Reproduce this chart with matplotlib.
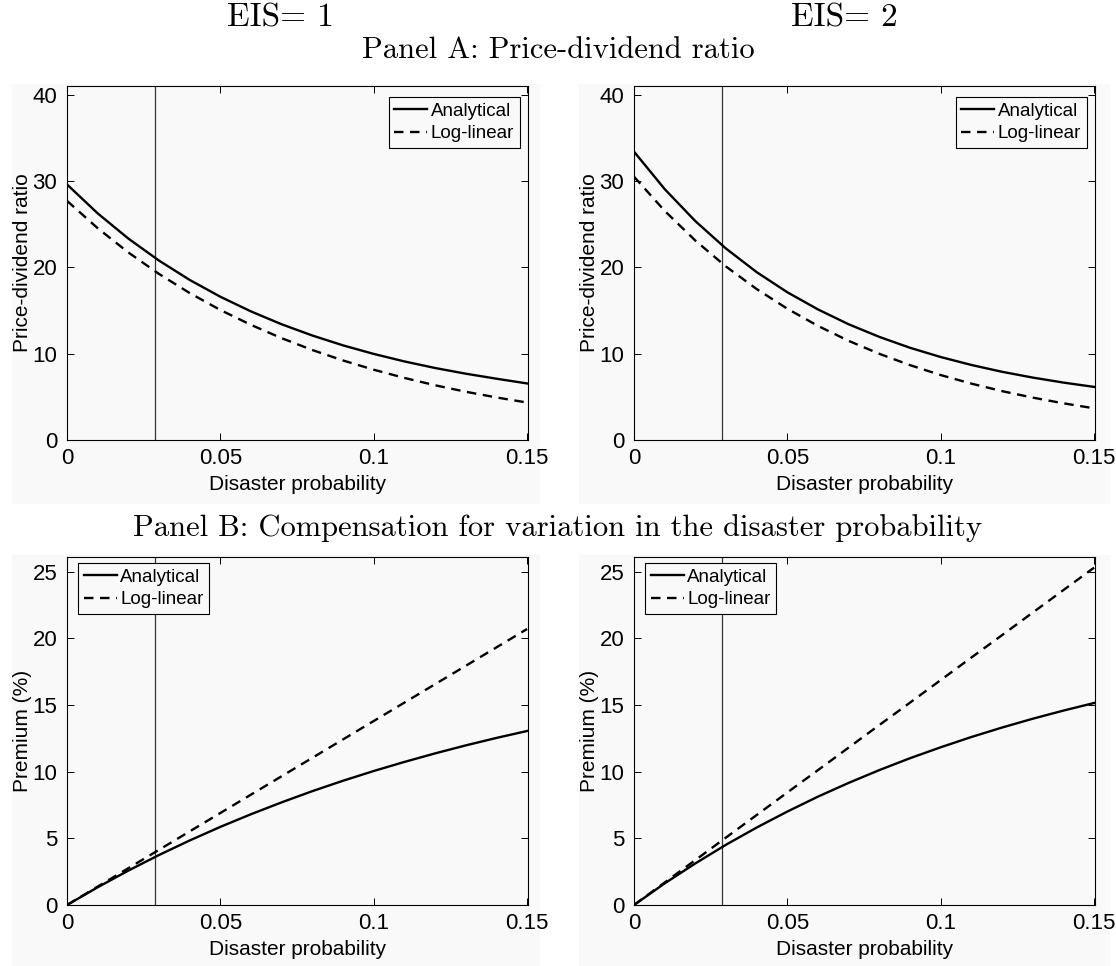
import matplotlib
matplotlib.use("Agg")
import matplotlib.pyplot as plt
from matplotlib.patches import Rectangle

# ---------------- data ----------------
p = [0.00, 0.01, 0.02, 0.03, 0.04, 0.05, 0.06, 0.07, 0.08,
     0.09, 0.10, 0.11, 0.12, 0.13, 0.14, 0.15]

pd_analytical_eis1 = [29.6, 26.25, 23.33, 20.78, 18.54, 16.59, 14.89, 13.40, 12.10,
                      10.96, 9.97, 9.10, 8.34, 7.68, 7.10, 6.55]
pd_loglinear_eis1 = [27.7, 24.53, 21.72, 19.23, 17.02, 15.06, 13.33, 11.79, 10.42,
                     9.21, 8.14, 7.19, 6.34, 5.59, 4.93, 4.34]
pd_analytical_eis2 = [33.4, 29.06, 25.35, 22.17, 19.44, 17.11, 15.12, 13.40, 11.94,
                      10.68, 9.61, 8.69, 7.90, 7.23, 6.65, 6.15]
pd_loglinear_eis2 = [30.5, 26.54, 23.10, 20.09, 17.48, 15.20, 13.21, 11.48, 9.98,
                     8.67, 7.52, 6.53, 5.66, 4.91, 4.25, 3.67]

prem_analytical_eis1 = [0.0, 1.33, 2.58, 3.75, 4.84, 5.86, 6.81, 7.70, 8.54,
                        9.32, 10.05, 10.73, 11.37, 11.97, 12.53, 13.05]
prem_loglinear_eis1 = [0.0, 1.38, 2.76, 4.14, 5.52, 6.90, 8.28, 9.66, 11.04,
                       12.42, 13.80, 15.18, 16.56, 17.94, 19.32, 20.70]
prem_analytical_eis2 = [0.0, 1.62, 3.12, 4.52, 5.81, 7.01, 8.13, 9.16, 10.12,
                        11.01, 11.83, 12.60, 13.31, 13.97, 14.58, 15.15]
prem_loglinear_eis2 = [0.0, 1.69, 3.37, 5.06, 6.75, 8.44, 10.12, 11.81, 13.50,
                       15.18, 16.87, 18.56, 20.24, 21.93, 23.62, 25.30]

mean_prob = 0.0286

column_titles = ["EIS= 1", "EIS= 2"]
panel_titles = ["Panel A: Price-dividend ratio",
                "Panel B: Compensation for variation in the disaster probability"]
series_names = ["Analytical", "Log-linear"]
x_ticks = [0, 0.05, 0.1, 0.15]
x_tick_labels = ["0", "0.05", "0.1", "0.15"]
pd_ticks = [0, 10, 20, 30, 40]
prem_ticks = [0, 5, 10, 15, 20, 25]

# ---------------- figure ----------------
W, H = 1116, 966
plt.rcParams["legend.handlelength"] = 1.75
plt.rcParams["legend.handletextpad"] = 0.2
plt.rcParams["legend.borderpad"] = 0.3
plt.rcParams["legend.labelspacing"] = 0.3
plt.rcParams["legend.borderaxespad"] = 0.0
plt.rcParams["legend.fancybox"] = False

fig = plt.figure(figsize=(W / 100, H / 100), dpi=100)
fig.patch.set_facecolor("white")

BG = "#f9f9f9"
sans = ["Liberation Sans", "DejaVu Sans"]
serif = ["cmr10", "DejaVu Serif"]
TICK_FS = 16
LABEL_FS = 15
LEG_FS = 13.5

def px_rect(l, t, r, b):
    return [l / W, 1 - b / H, (r - l) / W, (b - t) / H]

# gray backgrounds behind each subplot
for (l, t, r, b) in [(12, 84, 540, 504), (579, 84, 1110, 504),
                     (12, 555, 540, 966), (579, 555, 1110, 966)]:
    fig.patches.append(Rectangle((l / W, 1 - b / H), (r - l) / W, (b - t) / H,
                                 transform=fig.transFigure, facecolor=BG,
                                 edgecolor="none", zorder=-5))

axes_px = {
    (0, 0): (67, 86, 528, 440),
    (0, 1): (634, 86, 1095, 440),
    (1, 0): (67, 557, 528, 905),
    (1, 1): (634, 557, 1095, 905),
}

data = {
    (0, 0): (pd_analytical_eis1, pd_loglinear_eis1),
    (0, 1): (pd_analytical_eis2, pd_loglinear_eis2),
    (1, 0): (prem_analytical_eis1, prem_loglinear_eis1),
    (1, 1): (prem_analytical_eis2, prem_loglinear_eis2),
}

for (row, col), (l, t, r, b) in axes_px.items():
    ax = fig.add_axes(px_rect(l, t, r, b))
    ax.set_facecolor(BG)
    ana, loglin = data[(row, col)]
    ax.axvline(mean_prob, color="#333333", lw=0.9, zorder=1)
    ax.plot(p, ana, color="black", lw=1.7, label=series_names[0], zorder=3)
    ax.plot(p, loglin, color="black", lw=1.7, dashes=(4, 2.8),
            label=series_names[1], zorder=3)
    ax.set_xlim(0, 0.1503)
    ax.set_xticks(x_ticks)
    ax.set_xticklabels(x_tick_labels)
    if row == 0:
        ax.set_ylim(0, 41)
        ax.set_yticks(pd_ticks)
        ax.set_ylabel("Price-dividend ratio", fontsize=LABEL_FS, family=sans, labelpad=0)
        leg = ax.legend(loc="upper right", bbox_to_anchor=(0.982, 0.969),
                        prop={"family": sans, "size": LEG_FS})
    else:
        ax.set_ylim(0, 26.1)
        ax.set_yticks(prem_ticks)
        ax.set_ylabel("Premium (%)", fontsize=LABEL_FS, family=sans, labelpad=0)
        leg = ax.legend(loc="upper left", bbox_to_anchor=(0.024, 0.983),
                        prop={"family": sans, "size": LEG_FS})
    ax.set_xlabel("Disaster probability", fontsize=LABEL_FS, family=sans, labelpad=4)
    fr = leg.get_frame()
    fr.set_edgecolor("black")
    fr.set_facecolor(BG)
    fr.set_linewidth(0.8)
    fr.set_alpha(1)
    ax.tick_params(direction="in", length=5, width=0.7, top=True, right=True,
                   labelsize=TICK_FS)
    ax.tick_params(axis="x", pad=6)
    ax.tick_params(axis="y", pad=7)
    for lab in ax.get_xticklabels() + ax.get_yticklabels():
        lab.set_family(sans)
    for s in ax.spines.values():
        s.set_linewidth(0.8)
        s.set_color("black")

fig.text(280 / W, 1 - 18 / H, column_titles[0], family=serif, fontsize=24,
         ha="center", va="center")
fig.text(844 / W, 1 - 18 / H, column_titles[1], family=serif, fontsize=24,
         ha="center", va="center")
fig.text(558 / W, 1 - 50 / H, panel_titles[0], family=serif, fontsize=22,
         ha="center", va="center")
fig.text(558 / W, 1 - 528 / H, panel_titles[1], family=serif, fontsize=22,
         ha="center", va="center")

fig.savefig("out.png", dpi=100, facecolor="white")
